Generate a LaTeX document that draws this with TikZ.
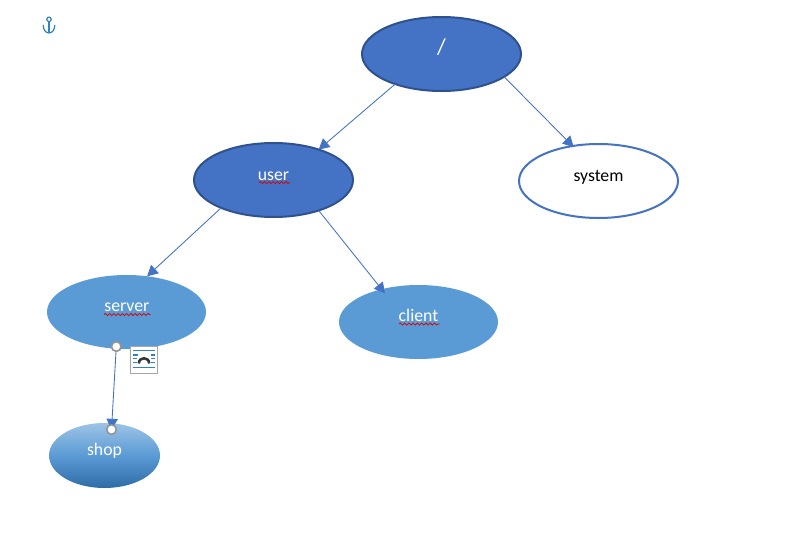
\documentclass[tikz,border=0pt]{standalone}
\usepackage{fontspec}
\setmainfont{Carlito}
\usetikzlibrary{shapes.geometric,arrows.meta,decorations.pathmorphing}
\definecolor{darkblue}{HTML}{4472C4}
\definecolor{darkedge}{HTML}{2F528F}
\definecolor{lightblue}{HTML}{5B9BD5}
\definecolor{shoptop}{HTML}{9DC3E6}
\definecolor{shopbottom}{HTML}{2E6CA6}
\definecolor{iconblue}{HTML}{2E83C6}
\newcommand{\lifted}[2]{\smash{\raisebox{#1}{#2}}}
\tikzset{
  x=0.75pt,y=-0.75pt,
  oval/.style={ellipse,inner sep=0pt,outer sep=0pt,minimum width=159\pxu,minimum height=74\pxu,font=\fontsize{13.3pt}{16pt}\selectfont},
  darkoval/.style={oval,fill=darkblue,draw=darkedge,line width=1.5pt,text=white},
  lightoval/.style={oval,fill=lightblue,text=white},
  whiteoval/.style={oval,fill=white,draw=darkblue,line width=1.5pt,text=black},
  shopoval/.style={oval,minimum width=111\pxu,minimum height=65\pxu,text=white,top color=shoptop,bottom color=shopbottom,middle color=lightblue},
  link/.style={draw=darkblue,line width=0.65pt,-{Triangle[length=8pt,width=8.5pt]}},
  handle/.style={circle,fill=white,draw=black!42,line width=1.1pt,minimum size=9.5\pxu,inner sep=0pt,outer sep=0pt},
  squiggle/.style={draw=red!85!black,line width=0.55pt,decorate,decoration={snake,amplitude=0.8pt,segment length=3.2pt}},
  wrapline/.style={draw=iconblue,line width=0.8pt},
}
\newlength{\pxu}\setlength{\pxu}{0.75pt}
\begin{document}
\begin{tikzpicture}
\useasboundingbox (0,0) rectangle (794,540);
\fill[white] (0,0) rectangle (794,540);

\node[darkoval] (root) at (441.5,54) {\lifted{-0.7pt}{\fontsize{17pt}{20pt}\selectfont /}};
\node[darkoval] (user) at (273.5,180) {\lifted{-0.4pt}{user}};
\node[whiteoval] (system) at (598.5,181) {\lifted{0pt}{system}};
\node[lightoval] (server) at (126.5,312) {\lifted{0.2pt}{\kern0.5pt server}};
\node[lightoval] (client) at (418.5,322) {\lifted{0.2pt}{client}};
\node[shopoval] (shop) at (104.5,455.5) {\lifted{0.3pt}{shop}};

\draw[link] (root.213) -- (user.34);
\draw[link] (root.340) -- ([shift={(1.5,1)}]system.127);
\draw[link] (user.208) -- (server.60);
\draw[link] (user.326) -- ([shift={(4,4)}]client.139);

\node[handle] (serverhandle) at (116.3,346.5) {};
\node[handle] (shophandle) at (111.5,429.5) {};
\draw[link] (serverhandle.center) -- (shophandle.center);
\node[handle] at (shophandle) {};
\node[handle] at (serverhandle) {};

% spelling underlines
\draw[squiggle] (259,182.5) -- (290,182.5);
\draw[squiggle] (104,314.5) -- (150.5,314.5);
\draw[squiggle] (399,324) -- (439.5,324);

% anchor icon
\draw[iconblue,line width=0.9pt] (49,19.3) circle[radius=2.2];
\draw[iconblue,line width=0.9pt] (49,21.5) -- (49,33);
\draw[iconblue,line width=0.9pt] (43.2,25) .. controls (43.2,30) and (46,33) .. (49,33) .. controls (52,33) and (54.8,30) .. (54.8,25);

% text-wrap icon
\draw[fill=white,draw=black!35,line width=0.8pt] (130.5,346.5) rectangle (157.5,373.5);
\draw[wrapline] (133,350.7) -- (155,350.7);
\draw[wrapline] (133,355) -- (155,355);
\draw[wrapline] (133,358.8) -- (137,358.8);
\draw[wrapline] (151,358.8) -- (155,358.8);
\draw[wrapline] (133,362.8) -- (137,362.8);
\draw[wrapline] (151,362.8) -- (155,362.8);
\draw[wrapline] (133,367.3) -- (155,367.3);
\fill[white] (137.5,352) rectangle (150.5,365);
\draw[black!80,line width=1.9pt] (138.8,363.5) .. controls (138.8,356.5) and (149.2,356.5) .. (149.2,363.5);
\end{tikzpicture}
\end{document}
